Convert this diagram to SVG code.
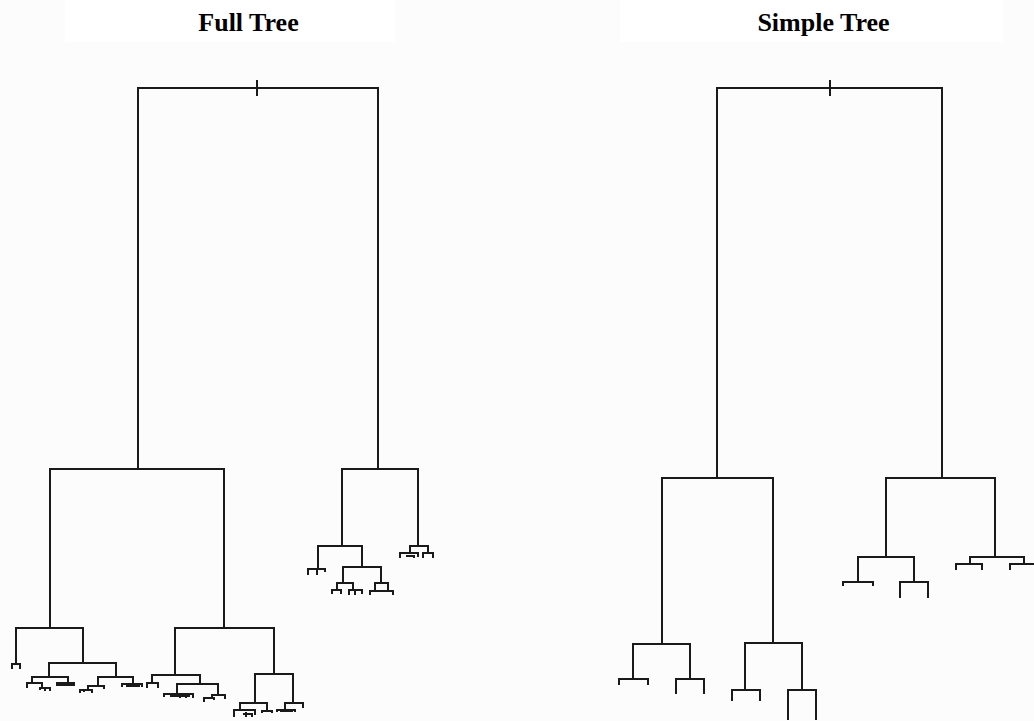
<svg xmlns="http://www.w3.org/2000/svg" width="1034" height="721" viewBox="0 0 1034 721">
<style>
.e{fill:none;stroke:#1a1a1a;stroke-width:2;stroke-linejoin:miter;stroke-linecap:butt}
.t{font-family:"Liberation Serif","Times New Roman",serif;font-weight:bold;font-size:26px;fill:#000;text-anchor:middle}
</style>
<rect width="1034" height="721" fill="#fcfcfc"/>
<rect x="65" y="0" width="330" height="42" fill="#ffffff"/>
<rect x="620" y="0" width="383" height="42" fill="#ffffff"/>
<g id="title-full"><text class="t" x="248.5" y="31">Full Tree</text></g>
<g id="title-simple"><text class="t" x="823.5" y="31">Simple Tree</text></g>
<g id="root-full"><path class="e" d="M257 80V96"/></g>
<g id="root-simple"><path class="e" d="M830 80V96"/></g>
<g id="connectors">
<g id="full-tree">
<path class="e" d="M138 469V88H378V469"/>
<path class="e" d="M50 628V469H224V628"/>
<path class="e" d="M342 546V469H418V546"/>
<path class="e" d="M16 664V628H83V663"/>
<path class="e" d="M12 669V664H20V669"/>
<path class="e" d="M49 677V663H116V677"/>
<path class="e" d="M32 683V677H68V683"/>
<path class="e" d="M27 688V683H42V688"/>
<path class="e" d="M40 690V688H50V691M45 688V691"/>
<path class="e" d="M57 686V683H74V686M57 685H73"/>
<path class="e" d="M98 685V677H133V684"/>
<path class="e" d="M88 689V686H104V689M80 693V690H92V693M84 689V692"/>
<path class="e" d="M122 687V684H142V687M126 686H140"/>
<path class="e" d="M175 675V628H274V674"/>
<path class="e" d="M152 683V675H200V684"/>
<path class="e" d="M147 688V683H158V688"/>
<path class="e" d="M177 694V684H218V695"/>
<path class="e" d="M164 697V694H193V698M180 694V698M186 694V698M170 696H190"/>
<path class="e" d="M212 698V695H225V699M204 702V698H214V700"/>
<path class="e" d="M255 703V674H293V703"/>
<path class="e" d="M240 710V703H267V712"/>
<path class="e" d="M234 717V710H255V715M243 714H252V717M246 712V717"/>
<path class="e" d="M262 713V711H272V713"/>
<path class="e" d="M285 710V703H303V708"/>
<path class="e" d="M277 712V710H295V712M280 711H293"/>
<path class="e" d="M318 568V546H362V567"/>
<path class="e" d="M308 575V569H325V572M317 569V575"/>
<path class="e" d="M343 583V567H381V583"/>
<path class="e" d="M337 590V583H353V590"/>
<path class="e" d="M332 594V590H341V594"/>
<path class="e" d="M349 595V590H362V594M355 590V595"/>
<path class="e" d="M375 591V583H388V591"/>
<path class="e" d="M370 595V591H393V595"/>
<path class="e" d="M410 553V546H428V553"/>
<path class="e" d="M400 558V553H418V557M406 556H414V558"/>
<path class="e" d="M423 558V553H433V558"/>
</g>
<g id="simple-tree">
<path class="e" d="M717 478V88H942V478"/>
<path class="e" d="M662 644V478H773V643"/>
<path class="e" d="M633 679V644H690V679"/>
<path class="e" d="M619 685V679H648V685"/>
<path class="e" d="M676 694V679H704V694"/>
<path class="e" d="M745 690V643H802V690"/>
<path class="e" d="M732 701V690H760V701"/>
<path class="e" d="M788 720V690H816V720"/>
<path class="e" d="M886 557V478H995V557"/>
<path class="e" d="M858 582V557H914V582"/>
<path class="e" d="M843 586V582H873V586"/>
<path class="e" d="M900 598V582H928V598"/>
<path class="e" d="M970 564V557H1024V564"/>
<path class="e" d="M956 570V564H982V570"/>
<path class="e" d="M1010 570V564H1040"/>
</g>
</g>
</svg>
